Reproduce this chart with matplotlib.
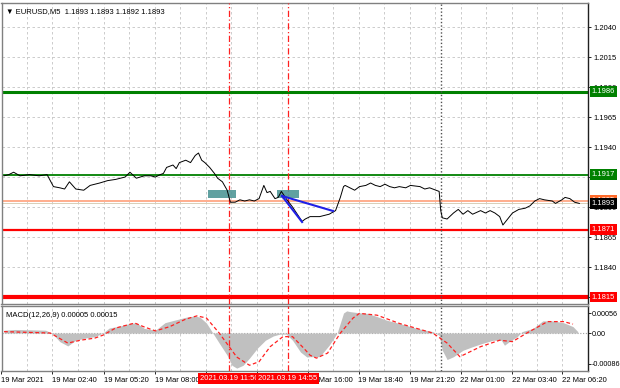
import matplotlib
matplotlib.use('Agg')
import matplotlib.pyplot as plt
import matplotlib.transforms as mtransforms
from matplotlib.patches import Rectangle

plt.rcParams['font.family'] = ['Liberation Sans', 'DejaVu Sans']
plt.rcParams['font.size'] = 5.5
FS = 5.5

# close prices, M5 bars (bar number, price)
price_bars = [0, 3, 6, 10, 16, 22, 27, 31, 35, 38,
              41, 45, 50, 54, 60, 65, 70, 76, 79, 83,
              88, 92, 95, 98, 100, 102, 106, 108, 110, 114,
              117, 120, 122, 124, 126, 129, 132, 134, 137, 140,
              142, 145, 148, 151, 154, 157, 160, 163, 165, 167,
              170, 172, 174, 177, 181, 184, 187, 189, 192, 198,
              204, 208, 211, 213, 214, 217, 220, 223, 227, 230,
              233, 236, 239, 242, 245, 248, 252, 255, 261, 264,
              267, 271, 273, 274, 275, 278, 282, 285, 288, 291,
              294, 299, 302, 305, 308, 311, 313, 316, 319, 323,
              327, 330, 333, 336, 339, 344, 346, 350, 352, 355,
              358, 361]
prices = [1.1916, 1.1917, 1.1919, 1.1916, 1.1917, 1.1916, 1.1917, 1.1907, 1.1906, 1.1905,
          1.1911, 1.1905, 1.1904, 1.1908, 1.1910, 1.1912, 1.1913, 1.1915, 1.1919, 1.1914,
          1.1916, 1.1916, 1.1915, 1.1917, 1.1918, 1.1923, 1.1925, 1.1922, 1.1927, 1.1929,
          1.1927, 1.1933, 1.1935, 1.1929, 1.1927, 1.1923, 1.1918, 1.1914, 1.1911, 1.1904,
          1.1894, 1.1894, 1.1896, 1.1895, 1.1896, 1.1895, 1.1897, 1.1908, 1.1902, 1.1903,
          1.1897, 1.1898, 1.1903, 1.1897, 1.1890, 1.1884, 1.1878, 1.1880, 1.1882, 1.1882,
          1.1884, 1.1887, 1.1898, 1.1907, 1.1908, 1.1906, 1.1904, 1.1907, 1.1908, 1.1910,
          1.1908, 1.1907, 1.1909, 1.1907, 1.1906, 1.1907, 1.1906, 1.1908, 1.1907, 1.1905,
          1.1906, 1.1904, 1.1903, 1.1887, 1.1881, 1.1880, 1.1885, 1.1888, 1.1884, 1.1887,
          1.1884, 1.1887, 1.1885, 1.1887, 1.1885, 1.1882, 1.1875, 1.1880, 1.1885, 1.1888,
          1.1889, 1.1891, 1.1895, 1.1897, 1.1896, 1.1895, 1.1893, 1.1896, 1.1898, 1.1897,
          1.1894, 1.1893]

# MACD(12,26,9)
hist_bars = [0, 7, 26, 30, 35, 40, 45, 51, 57, 62,
             66, 73, 79, 83, 88, 95, 101, 107, 114, 120,
             123, 127, 131, 135, 140, 143, 146, 150, 154, 159,
             164, 169, 173, 177, 181, 186, 190, 192, 198, 204,
             209, 213, 215, 217, 222, 228, 234, 240, 248, 259,
             269, 273, 275, 278, 282, 288, 294, 300, 307, 312,
             314, 317, 322, 325, 332, 338, 344, 351, 357, 360]
hist_vals = [0.00008, 0.0001, 0.00008, 0, -0.00024, -0.00036, -0.0002, -0.00014, -0.0001, 0,
             0.00014, 0.0002, 0.00027, 0.00029, 0.00013, 0.00008, 0.00029, 0.00036, 0.00044, 0.00048,
             0.00044, 0.00028, 0, -0.00028, -0.00062, -0.0009, -0.00098, -0.0009, -0.0007, -0.00042,
             -0.0002, -0.00008, -0.00003, -0.00003, -0.0002, -0.00053, -0.00067, -0.00066, -0.00066, -0.00034,
             0, 0.00056, 0.00062, 0.0006, 0.00057, 0.00055, 0.00046, 0.00036, 0.00027, 0.00013,
             0.00004, -0.00006, -0.00048, -0.00074, -0.00066, -0.00048, -0.00038, -0.00029, -0.0002, -0.0002,
             -0.00034, -0.00024, -0.0001, 0.00004, 0.00013, 0.00034, 0.00034, 0.00029, 0.00018, 0.00004]
sig_bars = [0, 29, 40, 48, 57, 62, 70, 82, 88, 95,
            104, 114, 121, 127, 135, 146, 154, 160, 167, 175,
            181, 188, 192, 196, 203, 211, 219, 223, 234, 248,
            269, 278, 286, 299, 311, 319, 328, 341, 351, 357]
sig_vals = [0.00004, 0, -0.00028, -0.0002, -0.00014, -0.00006, 0.00014, 0.00028, 0.00017, 0.00006,
            0.00018, 0.00039, 0.00048, 0.00042, 0, -0.00067, -0.0009, -0.0008, -0.00038, -0.0001,
            -0.0001, -0.00042, -0.00062, -0.0007, -0.00056, 0, 0.00042, 0.00055, 0.0005, 0.00027,
            0, -0.00028, -0.00066, -0.00038, -0.0002, -0.00024, 0, 0.00032, 0.00032, 0.00025]

# horizontal levels
level_prices = [1.1986, 1.1917, 1.1871, 1.1815]
level_colors = ['#008000', '#008000', '#ff0000', '#ff0000']
level_widths = [2.2, 1.3, 1.6, 3.0]
entry_price = 1.18953
bid_price = 1.1893

# entry zones (bar start, bar end, low, high)
zone_x0 = [128, 171.3]
zone_x1 = [145.6, 185.1]
zone_lo = [1.18975, 1.18975]
zone_hi = [1.19042, 1.19042]

# blue move lines
move_start = (174.4, 1.18992)
move_ends = [(187, 1.18775), (206.4, 1.18867)]

signal_bars = [141.2, 177.9]
signal_labels = ['2021.03.19 11:50', '2021.03.19 14:55']
day_sep_bar = 274.2

price_ticks = [1.2040, 1.2015, 1.1990, 1.1965, 1.1940, 1.1915, 1.1890, 1.1865, 1.1840, 1.1815]
price_tick_labels = ['1.2040', '1.2015', '1.1990', '1.1965', '1.1940', '1.1915', '1.1890',
                     '1.1865', '1.1840', '']
macd_ticks = [0.00056, 0.0, -0.00086]
macd_tick_labels = ['0.00056', '0.00', '-0.00086']
# labels hidden under the red time boxes are left blank
time_labels = ['19 Mar 2021', '19 Mar 02:40', '19 Mar 05:20', '19 Mar 08:00', '',
               '', '19 Mar 16:00', '19 Mar 18:40', '19 Mar 21:20', '22 Mar 01:00',
               '22 Mar 03:40', '22 Mar 06:20']

right_labels = [(1.1986, '1.1986', '#008000'), (1.1917, '1.1917', '#008000'),
                (entry_price, '1.1895', '#ff6a2a'), (bid_price, '1.1893', '#000000'),
                (1.1871, '1.1871', '#ff0000'), (1.1815, '1.1815', '#ff0000')]

W, H = 620, 388


def box(x0, y0, x1, y1):
    return [x0 / W, 1 - y1 / H, (x1 - x0) / W, (y1 - y0) / H]


fig = plt.figure(figsize=(6.2, 3.88), dpi=100)
ax = fig.add_axes(box(1.5, 3, 588, 303.5))
axm = fig.add_axes(box(1.5, 306, 588, 371))

xmin, xmax = -1.6, 366.4
grid_pos = [16 * n - 1.6 for n in range(23)]
label_pos = [32 * n - 1.6 for n in range(12)]

for a in (ax, axm):
    a.set_xlim(xmin, xmax)
    a.set_xticks(grid_pos)
    a.xaxis.grid(True, color='#c4c4c4', linestyle=(0, (3, 3)), linewidth=0.6)
    for s in a.spines.values():
        s.set_color('#808080')
        s.set_linewidth(1.0)
    a.spines['right'].set_color('#202020')
    a.yaxis.tick_right()
    a.tick_params(axis='y', direction='out', length=2.5, width=0.6, pad=1.2, labelsize=FS, colors='#000000')
    a.set_axisbelow(True)
    for b in signal_bars:
        a.axvline(b, color='#ff2020', linestyle=(0, (5, 2, 1, 2)), linewidth=0.9, zorder=3)
    a.axvline(day_sep_bar, color='#505050', linestyle=(0, (1, 1.5)), linewidth=1.0, zorder=3)

# main price panel
ax.set_ylim(1.18096, 1.2060)
ax.set_yticks(price_ticks)
ax.set_yticklabels(price_tick_labels)
ax.yaxis.grid(True, color='#c4c4c4', linestyle=(0, (3, 3)), linewidth=0.6)
ax.tick_params(axis='x', length=0, labelbottom=False)

for p, c, w in zip(level_prices, level_colors, level_widths):
    ax.axhline(p, color=c, linewidth=w, zorder=2)
ax.axhline(entry_price, color='#ffa07a', linewidth=1.2, zorder=2)
ax.axhline(bid_price, color='#d8cfb8', linewidth=0.7, zorder=2)

for x0, x1, lo, hi in zip(zone_x0, zone_x1, zone_lo, zone_hi):
    ax.add_patch(Rectangle((x0, lo), x1 - x0, hi - lo, facecolor='#4f9797', edgecolor='none',
                           alpha=0.9, zorder=4))

ax.plot(price_bars, prices, color='#000000', linewidth=0.7, zorder=5)

for ex, ey in move_ends:
    ax.plot([move_start[0], ex], [move_start[1], ey], color='#1f1fe6', linewidth=1.5, zorder=6)

ax.text(0.007, 0.983, '\u25bc EURUSD,M5  1.1893 1.1893 1.1892 1.1893', transform=ax.transAxes,
        ha='left', va='top', fontsize=FS, color='#000000')

trans_r = mtransforms.blended_transform_factory(ax.transAxes, ax.transData)
for p, txt, c in right_labels:
    ax.text(1.006, p, txt, transform=trans_r, ha='left', va='center', fontsize=FS, color='white',
            clip_on=False, zorder=10,
            bbox=dict(boxstyle='square,pad=0.25', facecolor=c, edgecolor='none'))

# MACD panel
axm.set_ylim(-0.00106, 0.000756)
axm.set_yticks(macd_ticks)
axm.set_yticklabels(macd_tick_labels)
axm.tick_params(axis='y', pad=0.6, length=2, labelsize=5.2)
axm.axhline(0, color='#a0a0a0', linestyle=(0, (1, 1.5)), linewidth=0.8, zorder=1)
axm.fill_between(hist_bars, hist_vals, 0, color='#c0c0c0', linewidth=0, zorder=2)
axm.plot(sig_bars, sig_vals, color='#ff2020', linestyle=(0, (3, 2)), linewidth=0.9, zorder=4)
axm.text(0.007, 0.86, 'MACD(12,26,9) 0.00005 0.00015', transform=axm.transAxes,
         ha='left', va='center', fontsize=FS, color='#000000')

tick_labels = []
for g in grid_pos:
    tick_labels.append(time_labels[label_pos.index(g)] if g in label_pos else '')
axm.set_xticklabels(tick_labels)
axm.tick_params(axis='x', direction='out', length=2, width=0.6, pad=2, labelsize=FS)
for lab in axm.get_xticklabels():
    lab.set_horizontalalignment('left')
for i, t in enumerate(axm.xaxis.get_major_ticks()):
    if grid_pos[i] not in label_pos:
        t.tick1line.set_visible(False)

trans_b = mtransforms.blended_transform_factory(axm.transData, axm.transAxes)
for b, txt in zip(signal_bars, signal_labels):
    axm.text(b, -0.115, txt, transform=trans_b, ha='center', va='center', fontsize=FS, color='white',
             clip_on=False, zorder=10,
             bbox=dict(boxstyle='square,pad=0.3', facecolor='#ff0000', edgecolor='none'))

fig.savefig('out.png', dpi=100)
